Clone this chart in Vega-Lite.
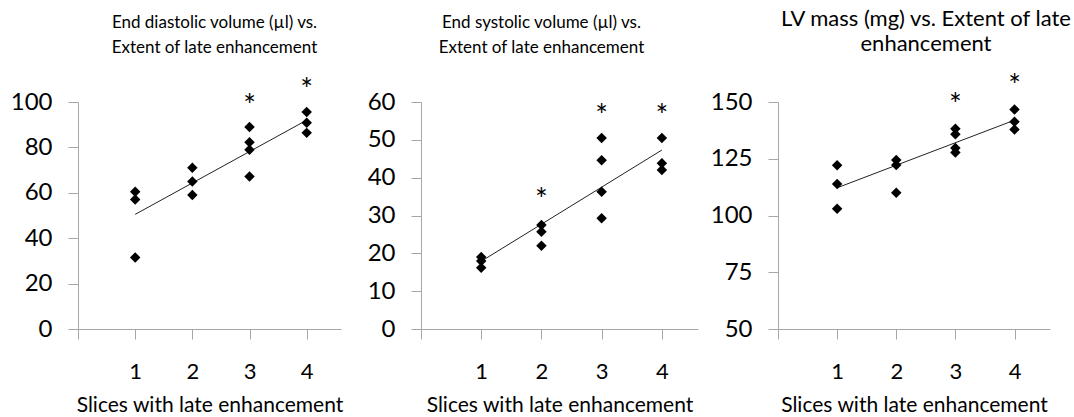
{
  "$schema": "https://vega.github.io/schema/vega-lite/v6.json",
  "background": "white",
  "padding": {"left": 10, "top": 8, "right": 0, "bottom": 0},
  "bounds": "flush",
  "spacing": 80,
  "config": {
    "view": {"stroke": null},
    "font": "Lato",
    "axis": {
      "grid": false,
      "domainColor": "#a6a6a6",
      "tickColor": "#a6a6a6",
      "tickSize": 10,
      "labelFont": "Lato",
      "labelColor": "#000000",
      "labelOverlap": false,
      "titleFont": "Lato",
      "titleColor": "#000000",
      "titleFontWeight": "normal"
    },
    "axisX": {"labelFontSize": 22, "labelPadding": 22, "titleFontSize": 21, "titlePadding": 12},
    "axisY": {"labelFontSize": 24, "labelPadding": 16, "labelOverlap": false},
    "title": {"fontWeight": "normal", "color": "#000000", "anchor": "middle", "lineHeight": 25, "frame": "group", "font": "Lato"}
  },
  "hconcat": [
    {
      "width": 263,
      "height": 227,
      "title": {"text": ["End diastolic volume (µl) vs.", "Extent of late enhancement"], "fontSize": 17, "offset": 19, "dx": 5},
      "data": {"values": [
        {"type": "pt", "x": 1, "y": 60.5}, {"type": "pt", "x": 1, "y": 57}, {"type": "pt", "x": 1, "y": 31.5},
        {"type": "pt", "x": 2, "y": 71}, {"type": "pt", "x": 2, "y": 65}, {"type": "pt", "x": 2, "y": 59},
        {"type": "pt", "x": 3, "y": 89}, {"type": "pt", "x": 3, "y": 82.3}, {"type": "pt", "x": 3, "y": 79}, {"type": "pt", "x": 3, "y": 67.2},
        {"type": "pt", "x": 4, "y": 95.6}, {"type": "pt", "x": 4, "y": 90.9}, {"type": "pt", "x": 4, "y": 86.4},
        {"type": "fit", "x": 1, "y": 50.5}, {"type": "fit", "x": 4, "y": 92},
        {"type": "star", "x": 3, "y": 100.9, "t": "*"}, {"type": "star", "x": 4, "y": 107.8, "t": "*"}
      ]},
      "encoding": {
        "x": {"field": "x", "type": "quantitative", "scale": {"domain": [0, 4.6], "nice": false},
          "axis": {"values": [0, 1, 2, 3, 4], "format": "d", "labelExpr": "datum.value == 0 ? '' : datum.label", "title": "Slices with late enhancement"}},
        "y": {"field": "y", "type": "quantitative", "scale": {"domain": [0, 100], "nice": false},
          "axis": {"values": [0, 20, 40, 60, 80, 100], "labelOverlap": false, "title": null}}
      },
      "layer": [
        {
          "transform": [{"filter": "datum.type == 'fit'"}],
          "mark": {"type": "line", "color": "#222222", "strokeWidth": 1}
        },
        {
          "transform": [{"filter": "datum.type == 'pt'"}],
          "mark": {"type": "point", "shape": "diamond", "filled": true, "color": "#000000", "size": 110, "opacity": 1}
        },
        {
          "transform": [{"filter": "datum.type == 'star'"}],
          "mark": {"type": "text", "font": "Lato", "fontSize": 30, "baseline": "middle", "dy": 7, "color": "#000000"},
          "encoding": {"text": {"field": "t"}}
        }
      ]
    },
    {
      "width": 277,
      "height": 227,
      "title": {"text": ["End systolic volume (µl) vs.", "Extent of late enhancement"], "fontSize": 17, "offset": 33, "dx": -18},
      "data": {"values": [
        {"type": "pt", "x": 1, "y": 19}, {"type": "pt", "x": 1, "y": 18}, {"type": "pt", "x": 1, "y": 16.2},
        {"type": "pt", "x": 2, "y": 27.5}, {"type": "pt", "x": 2, "y": 25.7}, {"type": "pt", "x": 2, "y": 22},
        {"type": "pt", "x": 3, "y": 50.5}, {"type": "pt", "x": 3, "y": 44.6}, {"type": "pt", "x": 3, "y": 36.3}, {"type": "pt", "x": 3, "y": 29.3},
        {"type": "pt", "x": 4, "y": 50.5}, {"type": "pt", "x": 4, "y": 43.8}, {"type": "pt", "x": 4, "y": 42},
        {"type": "fit", "x": 1, "y": 17.9}, {"type": "fit", "x": 4, "y": 47.3},
        {"type": "star", "x": 2, "y": 35.8, "t": "*"}, {"type": "star", "x": 3, "y": 58, "t": "*"}, {"type": "star", "x": 4, "y": 58, "t": "*"}
      ]},
      "encoding": {
        "x": {"field": "x", "type": "quantitative", "scale": {"domain": [0, 4.6], "nice": false},
          "axis": {"values": [0, 1, 2, 3, 4], "format": "d", "labelExpr": "datum.value == 0 ? '' : datum.label", "title": "Slices with late enhancement"}},
        "y": {"field": "y", "type": "quantitative", "scale": {"domain": [0, 60], "nice": false},
          "axis": {"values": [0, 10, 20, 30, 40, 50, 60], "labelOverlap": false, "title": null}}
      },
      "layer": [
        {
          "transform": [{"filter": "datum.type == 'fit'"}],
          "mark": {"type": "line", "color": "#222222", "strokeWidth": 1}
        },
        {
          "transform": [{"filter": "datum.type == 'pt'"}],
          "mark": {"type": "point", "shape": "diamond", "filled": true, "color": "#000000", "size": 110, "opacity": 1}
        },
        {
          "transform": [{"filter": "datum.type == 'star'"}],
          "mark": {"type": "text", "font": "Lato", "fontSize": 30, "baseline": "middle", "dy": 7, "color": "#000000"},
          "encoding": {"text": {"field": "t"}}
        }
      ]
    },
    {
      "width": 272,
      "height": 227,
      "title": {"text": ["LV mass (mg) vs. Extent of late", "enhancement"], "fontSize": 22, "offset": 16, "dx": 12},
      "data": {"values": [
        {"type": "pt", "x": 1, "y": 122.1}, {"type": "pt", "x": 1, "y": 113.9}, {"type": "pt", "x": 1, "y": 103},
        {"type": "pt", "x": 2, "y": 124.5}, {"type": "pt", "x": 2, "y": 122.2}, {"type": "pt", "x": 2, "y": 110},
        {"type": "pt", "x": 3, "y": 138.2}, {"type": "pt", "x": 3, "y": 135.8}, {"type": "pt", "x": 3, "y": 129.7}, {"type": "pt", "x": 3, "y": 127.8},
        {"type": "pt", "x": 4, "y": 146.7}, {"type": "pt", "x": 4, "y": 141.3}, {"type": "pt", "x": 4, "y": 137.9},
        {"type": "fit", "x": 1, "y": 112.2}, {"type": "fit", "x": 4, "y": 142},
        {"type": "star", "x": 3, "y": 151.5, "t": "*"}, {"type": "star", "x": 4, "y": 159.5, "t": "*"}
      ]},
      "encoding": {
        "x": {"field": "x", "type": "quantitative", "scale": {"domain": [0, 4.6], "nice": false},
          "axis": {"values": [0, 1, 2, 3, 4], "format": "d", "labelExpr": "datum.value == 0 ? '' : datum.label", "title": "Slices with late enhancement"}},
        "y": {"field": "y", "type": "quantitative", "scale": {"domain": [50, 150], "nice": false, "zero": false},
          "axis": {"values": [50, 75, 100, 125, 150], "labelOverlap": false, "title": null}}
      },
      "layer": [
        {
          "transform": [{"filter": "datum.type == 'fit'"}],
          "mark": {"type": "line", "color": "#222222", "strokeWidth": 1}
        },
        {
          "transform": [{"filter": "datum.type == 'pt'"}],
          "mark": {"type": "point", "shape": "diamond", "filled": true, "color": "#000000", "size": 110, "opacity": 1}
        },
        {
          "transform": [{"filter": "datum.type == 'star'"}],
          "mark": {"type": "text", "font": "Lato", "fontSize": 30, "baseline": "middle", "dy": 7, "color": "#000000"},
          "encoding": {"text": {"field": "t"}}
        }
      ]
    }
  ]
}
